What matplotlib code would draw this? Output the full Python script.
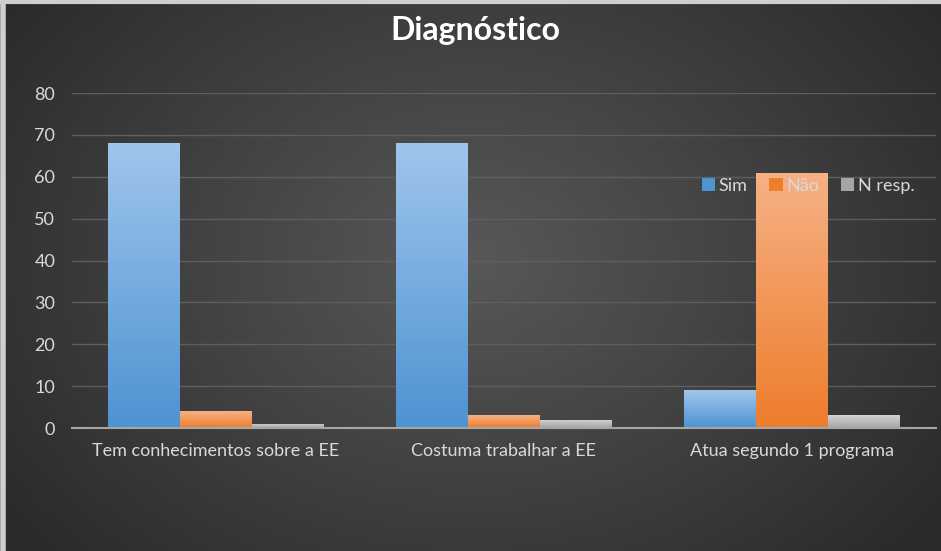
import matplotlib.pyplot as plt
import numpy as np
from matplotlib.colors import LinearSegmentedColormap

# data
categories = ["Tem conhecimentos sobre a EE", "Costuma trabalhar a EE", "Atua segundo 1 programa"]
series_names = ["Sim", "Não", "N resp."]
sim = [68, 68, 9]
nao = [4, 3, 61]
n_resp = [1, 2, 3]
yticks = [0, 10, 20, 30, 40, 50, 60, 70, 80]

base_colors = ["#4e93d2", "#ee7d2c", "#a5a5a5"]
top_colors = ["#9fc5ec", "#f6b185", "#d3d3d3"]
text_color = "#d9d9d9"

plt.rcParams["font.family"] = ["Lato", "DejaVu Sans"]

fig = plt.figure(figsize=(9.41, 5.51), dpi=100)

# radial gradient background
bg = fig.add_axes([0, 0, 1, 1], zorder=-10)
yy, xx = np.mgrid[0:551, 0:941]
r = np.sqrt(((xx - 470) / 560.0) ** 2 + ((yy - 260) / 420.0) ** 2)
bg_cmap = LinearSegmentedColormap.from_list("bg", ["#585858", "#2c2c2c"])
bg.imshow(np.clip(r, 0, 1), cmap=bg_cmap, vmin=0, vmax=1, aspect="auto",
          extent=[0, 1, 0, 1])
bg.set_xlim(0, 1)
bg.set_ylim(0, 1)
bg.axis("off")
# light screenshot border on left and top
bg.plot([0.003, 0.003], [0, 1], color="#cfcfcf", lw=4, solid_capstyle="butt")
bg.plot([0, 1], [0.997, 0.997], color="#cfcfcf", lw=3, solid_capstyle="butt")

ax = fig.add_axes([0.0765, 0.2232, 0.918, 0.608])
ax.patch.set_alpha(0)

x = np.arange(len(categories))
width = 0.25
all_series = [sim, nao, n_resp]
for i, vals in enumerate(all_series):
    bars = ax.bar(x + (i - 1) * width, vals, width, color=base_colors[i],
                  label=series_names[i], zorder=2)
    cmap = LinearSegmentedColormap.from_list("g%d" % i, [base_colors[i], top_colors[i]])
    for b in bars:
        bx, by = b.get_x(), b.get_y()
        bw, bh = b.get_width(), b.get_height()
        grad = np.linspace(0, 1, 100).reshape(-1, 1)
        im = ax.imshow(grad, cmap=cmap, origin="lower", aspect="auto",
                       extent=[bx, bx + bw, by, by + bh], zorder=2.5)
        im.set_clip_path(b)

ax.set_xlim(-0.5, 2.5)
ax.set_ylim(0, 80)
ax.set_yticks(yticks)
ax.set_xticks(x)
ax.set_xticklabels(categories)
ax.tick_params(axis="both", length=0, colors=text_color, labelsize=13)
ax.tick_params(axis="x", pad=11)
ax.tick_params(axis="y", pad=12)
ax.grid(axis="y", color="#5e5e5e", lw=1, zorder=0)
for s in ["top", "right", "left"]:
    ax.spines[s].set_visible(False)
ax.spines["bottom"].set_color("#a6a6a6")
ax.spines["bottom"].set_linewidth(1.5)
ax.spines["bottom"].set_zorder(3)

leg = ax.legend(loc="upper left", bbox_to_anchor=(0.71, 0.795), ncol=3, frameon=False,
                fontsize=13, handlelength=0.75, handleheight=0.75, handletextpad=0.2,
                columnspacing=1.2, labelcolor=text_color)

fig.text(0.505, 0.945, "Diagnóstico", ha="center", va="center", fontsize=23,
         fontweight="bold", color="white")

fig.savefig("out.png", dpi=100)
